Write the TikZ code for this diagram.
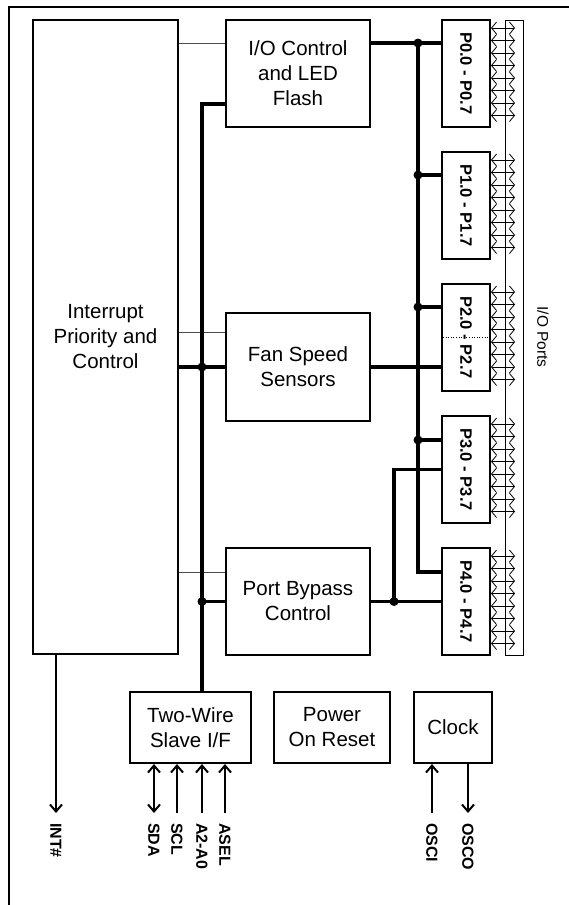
\documentclass[tikz,border=0pt]{standalone}
\usepackage{fontspec}
\setmainfont{Liberation Sans}
\usetikzlibrary{arrows.meta}
\begin{document}
\begin{tikzpicture}[x=1pt,y=-1pt,
    blk/.style={draw,line width=2pt,inner sep=0pt,align=center,font=\fontsize{20.5}{25}\selectfont},
    port/.style={draw,line width=2pt,inner sep=0pt,minimum width=48pt,minimum height=107pt,font=\bfseries\fontsize{16.5}{18}\selectfont},
    bus/.style={line width=3.2pt},
    thinw/.style={line width=1pt,black!70},
    pinp/.style={line width=0.8pt,{Straight Barb[length=5pt,width=12pt]}-{Straight Barb[length=5pt,width=12pt]}},
    pin/.style={line width=2pt,>={Straight Barb[length=7pt,width=12pt]}},
    plbl/.style={rotate=-90,anchor=west,inner sep=0pt,font=\bfseries\fontsize{16}{18}\selectfont}]
\useasboundingbox (0,0) rectangle (569,905);
\draw[line width=2pt] (569,7) -- (9,7) -- (9,905);
\node[blk,minimum width=145pt,minimum height=634pt] (intr) at (105.5,337) {Interrupt\\Priority and\\Control};
\node[blk,minimum width=144pt,minimum height=107pt] (ioc) at (298,73.5) {I/O Control\\and LED\\Flash};
\node[blk,minimum width=144pt,minimum height=108pt] (fan) at (298,367) {Fan Speed\\Sensors};
\node[blk,minimum width=144pt,minimum height=107pt] (pbc) at (298,601.5) {Port Bypass\\Control};
\node[blk,minimum width=121pt,minimum height=71pt] (tw) at (190.5,727.5) {Two-Wire\\Slave I/F};
\node[blk,minimum width=116pt,minimum height=71pt] (por) at (332,727.5) {Power\\On Reset};
\node[blk,minimum width=78pt,minimum height=71pt] (clk) at (453,727.5) {Clock};
\foreach \i in {0,...,4} {
    \node[port] (P\i) at (466,73.5+132*\i) {\rotatebox{-90}{P\i.0 - P\i.7}};
    \foreach \k in {0,...,7}
        \draw[pinp] ([yshift={-(9+12.5*\k)*1pt}]P\i.north east) -- ++(24,0);
}
\node[draw,line width=0.8pt,inner sep=0pt,minimum width=18pt,minimum height=635pt] (iop) at (514,337.5) {};
\node[rotate=-90,inner sep=0pt,font=\fontsize{15.5}{18}\selectfont] (iopl) at (543,337) {I/O Ports};
\draw[dotted,line width=0.6pt] ([xshift=2pt]P2.west) -- ([xshift=-3pt]P2.east);
\draw[thinw] (intr.east |- 0,43) -- (ioc.west |- 0,43);
\draw[thinw] (intr.east |- 0,332) -- (fan.west |- 0,332);
\draw[thinw] (intr.east |- 0,572) -- (pbc.west |- 0,572);
\coordinate (lb) at (202,104);
\coordinate (rb) at (418,43);
\coordinate (pb) at (394,601.5);
\draw[bus] (ioc.west |- lb) -- (lb) -- (lb |- tw.north);
\draw[bus] (intr.east |- fan.west) -- (fan.west);
\draw[bus] (lb |- pbc.west) -- (pbc.west);
\draw[bus] (ioc.east |- rb) -- (P0.west |- rb);
\draw[bus] (rb) |- (P4.west |- 0,572);
\foreach \i/\y in {1/175,2/307,3/440}
    \draw[bus] (rb |- 0,\y) -- (P\i.west |- 0,\y);
\draw[bus] (fan.east) -- (fan.east -| P2.west);
\draw[bus] (pbc.east) -- (pbc.east -| P4.west);
\draw[bus] (pb) |- (P3.west);
\foreach \y in {43,175,307,440}
    \fill (rb |- 0,\y) circle (4.5);
\fill (lb |- fan.west) circle (4.5);
\fill (lb |- pbc.west) circle (4.5);
\fill (pb) circle (4.5);
\node[plbl] (int) at (56,823) {INT\#};
\node[plbl] (sda) at (154,823) {SDA};
\node[plbl] (scl) at (177,823) {SCL};
\node[plbl] (adr) at (202,823) {A2-A0};
\node[plbl] (asel) at (225,823) {ASEL};
\node[plbl] (osci) at (432,823) {OSCI};
\node[plbl] (osco) at (468,823) {OSCO};
\draw[pin,->] (intr.south -| int.west) -- ([yshift=10pt]int.west);
\draw[pin,<->] (tw.south -| sda.west) -- ([yshift=10pt]sda.west);
\draw[pin,<-] (tw.south -| scl.west) -- ([yshift=10pt]scl.west);
\draw[pin,<-] (tw.south -| adr.west) -- ([yshift=10pt]adr.west);
\draw[pin,<-] (tw.south -| asel.west) -- ([yshift=10pt]asel.west);
\draw[pin,<-] (clk.south -| osci.west) -- ([yshift=10pt]osci.west);
\draw[pin,->] (clk.south -| osco.west) -- ([yshift=10pt]osco.west);
\end{tikzpicture}
\end{document}
